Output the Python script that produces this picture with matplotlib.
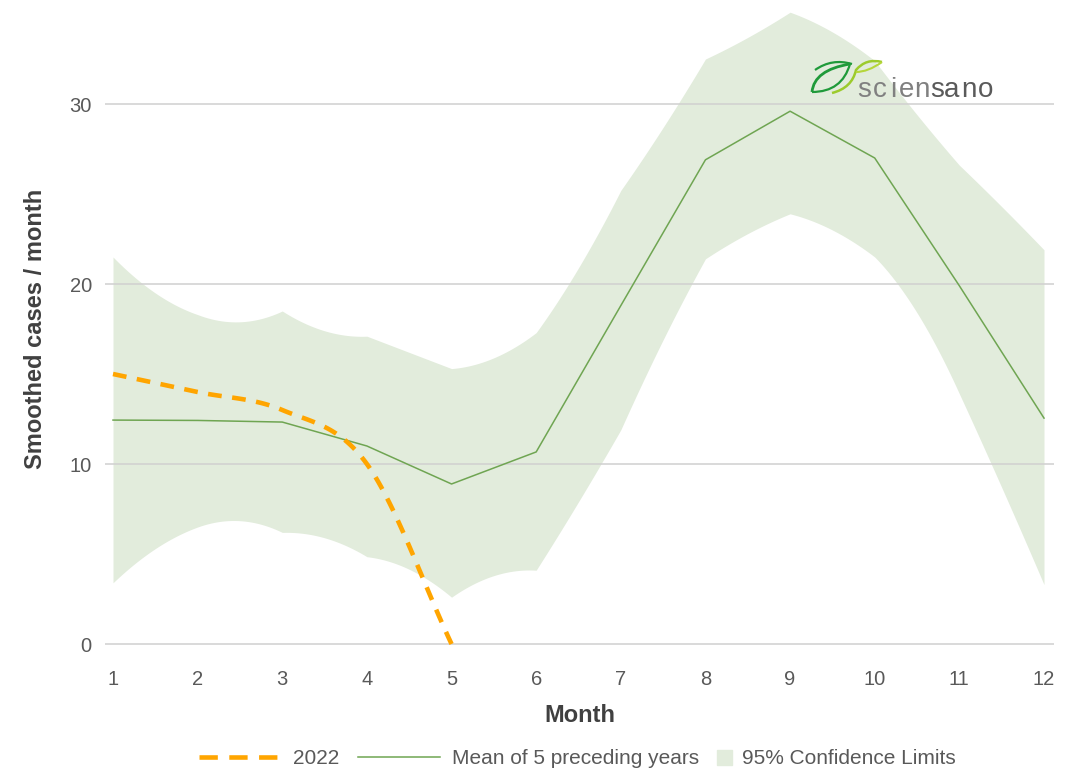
import numpy as np
import matplotlib.pyplot as plt
from matplotlib.lines import Line2D
from matplotlib.patches import Patch, PathPatch
from matplotlib.path import Path

plt.rcParams['font.family'] = ['Liberation Sans', 'DejaVu Sans']

months = [1, 2, 3, 4, 5, 6, 7, 8, 9, 10, 11, 12]
mean_5y = [12.44, 12.42, 12.33, 11.0, 8.89, 10.67, 18.8, 26.9, 29.6, 27.0, 19.9, 12.55]
# 95% limits read at each month and half way between months
upper_95 = [21.5, 18.3, 18.5, 17.1, 15.3, 17.3, 25.2, 32.5, 35.1, 32.4, 26.6, 21.9]
upper_mid = [19.5, 17.9, 17.4, 16.2, 15.9, 20.9, 28.7, 33.7, 34.0, 29.4, 24.3]
lower_95 = [3.4, 6.5, 6.2, 4.85, 2.6, 4.1, 11.9, 21.4, 23.9, 21.5, 13.9, 3.3]
lower_mid = [5.3, 6.85, 5.9, 4.15, 3.8, 7.9, 16.9, 22.8, 23.0, 18.4, 8.7]
months_2022 = [1, 2, 3, 4, 5]
cases_2022 = [15.0, 14.0, 13.0, 10.0, 0.0]


def segments(x, y, ymid, n=25):
    # one parabola per month through start, middle and end values
    t = np.linspace(0, 1, n, endpoint=False)
    xs, ys = [], []
    for i in range(len(x) - 1):
        y0, ym, y1 = y[i], ymid[i], y[i + 1]
        xs.extend(x[i] + (x[i + 1] - x[i]) * t)
        ys.extend(y0 + (-3 * y0 + 4 * ym - y1) * t + (2 * y0 - 4 * ym + 2 * y1) * t ** 2)
    xs.append(x[-1])
    ys.append(y[-1])
    return np.array(xs), np.array(ys)


def smooth(x, y, n=30):
    # Catmull-Rom curve through the points
    x = np.asarray(x, float)
    y = np.asarray(y, float)
    px = np.concatenate([[2 * x[0] - x[1]], x, [2 * x[-1] - x[-2]]])
    py = np.concatenate([[2 * y[0] - y[1]], y, [2 * y[-1] - y[-2]]])
    t = np.linspace(0, 1, n, endpoint=False)
    xs, ys = [], []
    for i in range(1, len(px) - 2):
        for p, out in ((px, xs), (py, ys)):
            p0, p1, p2, p3 = p[i - 1], p[i], p[i + 1], p[i + 2]
            out.extend(0.5 * (2 * p1 + (p2 - p0) * t
                              + (2 * p0 - 5 * p1 + 4 * p2 - p3) * t ** 2
                              + (3 * p1 - p0 - 3 * p2 + p3) * t ** 3))
    xs.append(x[-1])
    ys.append(y[-1])
    return np.array(xs), np.array(ys)


fig = plt.figure(figsize=(10.76, 7.7), dpi=100)
ax = fig.add_axes([105 / 1076, 1 - 653 / 770, 949 / 1076, 648 / 770])

band_col = '#e2ecdc'
green = '#6fa552'
orange = '#ffa500'
txt = '#595959'

sx, su = segments(months, upper_95, upper_mid)
_, sl = segments(months, lower_95, lower_mid)
ax.fill_between(sx, sl, su, color=band_col, lw=0, zorder=1)
ax.plot(months, mean_5y, color=green, lw=1.1, zorder=3)
ox, oy = smooth(months_2022, cases_2022)
ax.plot(ox, oy, color=orange, lw=3.3, dashes=(3.0, 2.3), zorder=4)

ax.set_xlim(1 - 8 / 84.64, 12 + 10 / 84.64)
ax.set_ylim(-0.5, 35.5)
ax.set_xticks(months)
ax.set_yticks([0, 10, 20, 30])
ax.grid(axis='y', color='#d0d0d0', lw=1.1, zorder=2)
ax.set_axisbelow(False)
for s in ax.spines.values():
    s.set_visible(False)
ax.tick_params(length=0, labelsize=14.5, labelcolor=txt)
ax.tick_params(axis='y', pad=9.5)
ax.tick_params(axis='x', pad=12)
ax.set_xlabel('Month', fontsize=17, fontweight='bold', color='#404040', labelpad=11)
ax.set_ylabel('Smoothed cases / month', fontsize=17, fontweight='bold',
              color='#404040', labelpad=16)

# legend (two parts so the square patch gets a short handle)
h1 = [Line2D([], [], color=orange, lw=3.3, dashes=(4.0, 2.5)),
      Line2D([], [], color=green, lw=1.1)]
leg1 = fig.legend(h1, ['2022', 'Mean of 5 preceding years'], loc='center right',
                  bbox_to_anchor=(699 / 1076, 1 - 759 / 770), ncol=2, frameon=False,
                  fontsize=15, handlelength=3.95, handletextpad=0.58,
                  columnspacing=0.87, borderpad=0, borderaxespad=0)
for t in leg1.get_texts():
    t.set_color(txt)
leg2 = fig.legend([Patch(color=band_col)], ['95% Confidence Limits'], loc='center left',
                  bbox_to_anchor=(717 / 1076, 1 - 759 / 770), frameon=False,
                  fontsize=15, handlelength=0.7, handleheight=0.7,
                  handletextpad=0.5, borderpad=0, borderaxespad=0)
for t in leg2.get_texts():
    t.set_color(txt)

# sciensano logo, drawn in pixel coordinates
lg = fig.add_axes([805 / 1076, 1 - 105 / 770, 195 / 1076, 50 / 770])
lg.set_xlim(805, 1000)
lg.set_ylim(105, 55)
lg.axis('off')
lg.patch.set_alpha(0)
C3 = Path.CURVE3
lg.add_patch(PathPatch(Path([(812, 92), (814, 70), (850, 64)], [Path.MOVETO, C3, C3]),
                       fill=False, ec='#1f9a3a', lw=2))
lg.add_patch(PathPatch(Path([(812, 92), (842, 92), (850, 64)], [Path.MOVETO, C3, C3]),
                       fill=False, ec='#1f9a3a', lw=1.6))
lg.add_patch(PathPatch(Path([(815, 70), (832, 58), (852, 64)], [Path.MOVETO, C3, C3]),
                       fill=False, ec='#1f9a3a', lw=1.6))
lg.add_patch(PathPatch(Path([(832, 93), (852, 88), (856, 70), (866, 58), (882, 62)],
                            [Path.MOVETO, C3, C3, C3, C3]),
                       fill=False, ec='#9ccb2c', lw=1.8))
lg.add_patch(PathPatch(Path([(856, 72), (868, 72), (882, 62)], [Path.MOVETO, C3, C3]),
                       fill=False, ec='#b5d63a', lw=1.5))
letters = 'sciensano'
centers = [864, 880, 893, 907, 922, 937, 952, 969, 986]
for i, (ch, cx) in enumerate(zip(letters, centers)):
    lg.text(cx, 97, ch, ha='center', va='baseline', fontsize=20,
            color='#808080' if i < 5 else '#5a5a5a')

fig.savefig('out.png', dpi=100)
